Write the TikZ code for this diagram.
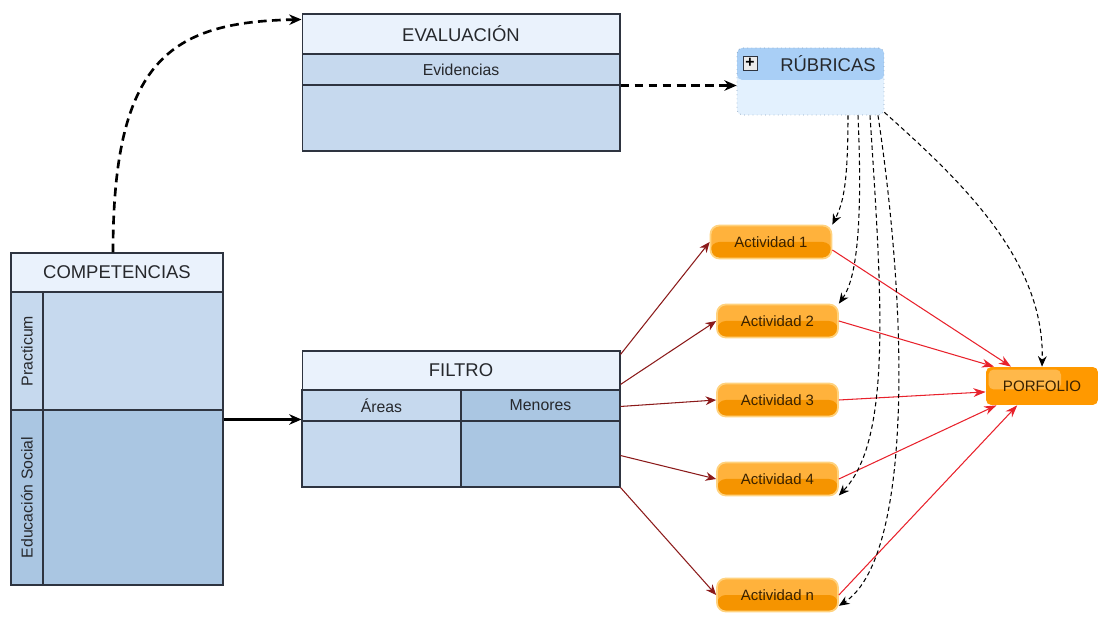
\documentclass[tikz,border=0pt]{standalone}
\usepackage{fontspec}
\setmainfont{Liberation Sans}
\usetikzlibrary{arrows.meta}
\definecolor{boxline}{HTML}{2E3440}
\definecolor{textgray}{HTML}{26282C}
\definecolor{hdrblue}{HTML}{EAF2FC}
\definecolor{rowblue}{HTML}{C6D9EE}
\definecolor{darkblue}{HTML}{AAC6E2}
\definecolor{rubhead}{HTML}{A9CFF6}
\definecolor{rubbody}{HTML}{E3F1FE}
\definecolor{rubline}{HTML}{8AA4C0}
\definecolor{actlight}{HTML}{FFB23C}
\definecolor{actdark}{HTML}{F59400}
\definecolor{actborder}{HTML}{FFD27E}
\definecolor{acttext}{HTML}{3A2200}
\definecolor{porfdark}{HTML}{FF9900}
\definecolor{porflight}{HTML}{FFB84A}
\definecolor{linkred}{HTML}{E8222C}
\definecolor{darkred}{HTML}{8B1A1A}
\begin{document}
\begin{tikzpicture}[x=0.02cm,y=-0.02cm,
    box/.style={draw=boxline,line width=0.6pt,inner sep=0pt,text=textgray},
    hdr/.style={box,fill=hdrblue,font=\fontsize{10.5}{12}\selectfont},
    cell/.style={box,fill=rowblue,font=\fontsize{9}{11}\selectfont},
    celldark/.style={cell,fill=darkblue},
    act/.style={rounded corners=5pt,draw=actborder,line width=1pt,fill=actlight,
      minimum width=2.42cm,minimum height=0.66cm,inner sep=0pt,text=acttext,
      font=\fontsize{8.5}{10}\selectfont,
      path picture={\fill[actdark] (path picture bounding box.west) rectangle (path picture bounding box.south east);}},
    bigdash/.style={line width=1.5pt,dash pattern=on 5pt off 3pt,-{Stealth[length=7pt,width=6pt]}},
    smalldash/.style={line width=0.6pt,dash pattern=on 2.5pt off 1.8pt,-{Stealth[length=6pt,width=5pt,inset=2pt]}},
    redlink/.style={linkred,line width=0.6pt,-{Stealth[length=7pt,width=5pt]}},
    filterlink/.style={darkred,line width=0.6pt,-{Stealth[length=6pt,width=5pt]}}]
  \useasboundingbox (0,0) rectangle (1098,617);
  % competencias
  \node[hdr,minimum width=4.24cm,minimum height=0.78cm] (comp) at (117,272.5) {COMPETENCIAS};
  \node[cell,rotate=90,minimum width=2.36cm,minimum height=0.64cm] (praclbl) at (27,351) {Practicum};
  \node[cell,minimum width=3.6cm,minimum height=2.36cm] (pracbody) at (133,351) {};
  \node[celldark,rotate=90,minimum width=3.5cm,minimum height=0.64cm] (educlbl) at (27,497.5) {Educación Social};
  \node[celldark,minimum width=3.6cm,minimum height=3.5cm] (educbody) at (133,497.5) {};
  % evaluacion
  \node[hdr,minimum width=6.36cm,minimum height=0.8cm] (evalh) at (461,34) {EVALUACIÓN};
  \node[cell,minimum width=6.36cm,minimum height=0.62cm] (evid) at (461,69.5) {Evidencias};
  \node[cell,minimum width=6.36cm,minimum height=1.32cm] (evalbody) at (461,118) {};
  % filtro
  \node[hdr,minimum width=6.36cm,minimum height=0.78cm] (filtroh) at (461,370.5) {FILTRO};
  \node[cell,minimum width=3.18cm,minimum height=0.62cm] (areas) at (381.5,405.5) {Áreas};
  \node[celldark,minimum width=3.18cm,minimum height=0.62cm] (menores) at (540.5,405.5) {Menores};
  \node[cell,minimum width=3.18cm,minimum height=1.32cm] (areasbody) at (381.5,454) {};
  \node[celldark,minimum width=3.18cm,minimum height=1.32cm] (menoresbody) at (540.5,454) {};
  % rubricas
  \node[rounded corners=3pt,draw=rubline,dotted,fill=rubbody,minimum width=2.94cm,minimum height=1.34cm,
    path picture={\fill[rubhead] (path picture bounding box.north west) rectangle ([yshift=-0.64cm]path picture bounding box.north east);}]
    (rub) at (810.5,81.5) {};
  \node[text=textgray,font=\fontsize{10.5}{12}\selectfont] (rubtitle) at (828,64) {RÚBRICAS};
  \node[draw=boxline,line width=0.5pt,fill=black!8,minimum size=0.28cm,inner sep=0pt,
    font=\fontsize{9}{9}\bfseries\selectfont] (rubplus) at (750,63) {+};
  % actividades y porfolio
  \node[act] (act1) at (771,242) {Actividad 1};
  \node[act] (act2) at (777.5,321) {Actividad 2};
  \node[act] (act3) at (777.5,400) {Actividad 3};
  \node[act] (act4) at (777.5,479) {Actividad 4};
  \node[act] (actn) at (777.5,595) {Actividad n};
  \node[rounded corners=3pt,fill=porfdark,minimum width=2.24cm,minimum height=0.76cm,inner sep=0pt,
    text=acttext,font=\fontsize{8.6}{10}\selectfont,
    path picture={\fill[porflight,rounded corners=3pt] ([shift={(0.05cm,-0.05cm)}]path picture bounding box.north west) rectangle ([shift={(1.5cm,-0.45cm)}]path picture bounding box.north west);}]
    (porf) at (1042,386) {PORFOLIO};
  % conexiones
  \draw[bigdash] ([xshift=-0.08cm]comp.north) .. controls (113,60) and (170,22) .. ([yshift=-0.12cm]evalh.north west);
  \draw[bigdash] (evid.south east) -- (evid.south east -| rub.west);
  \draw[line width=1.6pt,-{Stealth[length=7pt,width=6pt]}] ([yshift=-0.2cm]educbody.north east) -- ([yshift=-0.2cm]educbody.north east -| areas.west);
  \draw[filterlink] ([yshift=-0.08cm]filtroh.north east) -- (act1.west);
  \draw[filterlink] ([yshift=-0.68cm]filtroh.north east) -- (act2.west);
  \draw[filterlink] ([yshift=-0.34cm]menores.north east) -- (act3.west);
  \draw[filterlink] ([yshift=0.64cm]menoresbody.south east) -- (act4.west);
  \draw[filterlink] (menoresbody.south east) -- (actn.west);
  \draw[redlink] ([yshift=-0.16cm]act1.east) -- (porf.148);
  \draw[redlink] (act2.east) -- (porf.158);
  \draw[redlink] (act3.east) -- (porf.186);
  \draw[redlink] (act4.east) -- (porf.203);
  \draw[redlink] (actn.east) -- (porf.218);
  \draw[smalldash] ([xshift=0.75cm]rub.south) .. controls (848,190) and (842,205) .. (act1.north east);
  \draw[smalldash] ([xshift=0.95cm]rub.south) .. controls (864,250) and (852,285) .. (act2.north east);
  \draw[smalldash] ([xshift=1.19cm]rub.south) .. controls (882,300) and (892,440) .. (act4.-15);
  \draw[smalldash] ([xshift=1.35cm]rub.south) .. controls (910,330) and (910,560) .. (actn.-10);
  \draw[smalldash] ([yshift=0.06cm]rub.south east) .. controls (960,180) and (1045,260) .. (porf.north);
\end{tikzpicture}
\end{document}
